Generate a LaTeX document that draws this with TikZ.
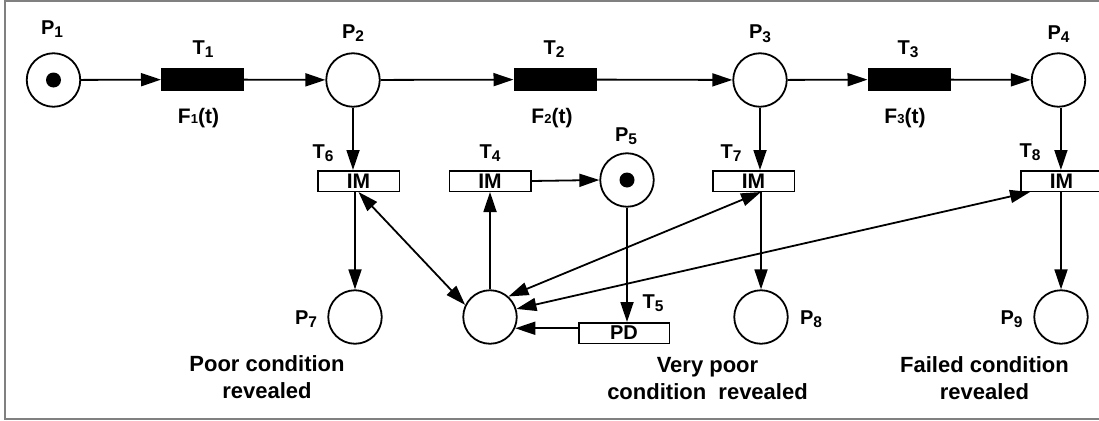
\documentclass[tikz,border=0pt]{standalone}
\usepackage{fontspec}
\setmainfont{Liberation Sans}
\usetikzlibrary{arrows.meta}
\newcommand{\pnlabel}[2]{\fontsize{20}{20}\selectfont\textbf{#1}\raisebox{-3pt}{\fontsize{15.5}{15.5}\selectfont\textbf{#2}}}
\newcommand{\fnlabel}[1]{\fontsize{21}{21}\selectfont\textbf{F{\fontsize{13}{13}\selectfont #1}(t)}}
\tikzset{
  place/.style={circle, draw, line width=1.8pt, minimum size=53.5pt, inner sep=0pt},
  timed/.style={rectangle, fill=black, draw, line width=1pt, minimum width=82pt, minimum height=22pt, inner sep=0pt},
  imm/.style={rectangle, draw, line width=1.5pt, minimum width=81.5pt, minimum height=20.5pt, inner sep=0pt, font=\fontsize{21}{21}\selectfont\bfseries},
  token/.style={circle, fill=black, minimum size=15pt, inner sep=0pt},
  lbl/.style={anchor=base, inner sep=0pt},
  bottxt/.style={anchor=base, align=center, inner sep=0pt, font=\fontsize{22}{27}\selectfont\bfseries},
  arc/.style={line width=1.8pt, -{Triangle[length=20pt,width=13pt]}},
  darc/.style={line width=1.8pt, {Triangle[length=20pt,width=13pt]}-{Triangle[length=20pt,width=13pt]}},
}
\begin{document}
\begin{tikzpicture}[x=1pt, y=-1pt]
\useasboundingbox (0,0) rectangle (1099,420);
\draw[gray, line width=2pt] (1105,1.5) -- (5,1.5) -- (5,418.5) -- (1105,418.5);

% places
\node[place] (P1) at (53.5,80) {};
\node[token] (k1) at (P1) {};
\node[place] (P2) at (353,80) {};
\node[place] (P3) at (760,80) {};
\node[place] (P4) at (1058.5,80) {};
\node[place] (P5) at (627,180) {};
\node[token] (k5) at (P5) {};
\node[place] (P7) at (355,317) {};
\node[place] (M) at (490,317) {};
\node[place] (P8) at (761,317) {};
\node[place] (P9) at (1061,317) {};

% timed transitions
\node[timed] (T1) at (202.5,79.5) {};
\node[timed] (T2) at (555,79.5) {};
\node[timed] (T3) at (909,79.5) {};

% immediate transitions
\node[imm] (T6) at (358.5,181) {IM};
\node[imm] (T4) at (490,181) {IM};
\node[imm] (T7) at (753.5,181) {IM};
\node[imm] (T8) at (1061.5,181) {IM};
\node[imm, minimum width=90.5pt, font=\fontsize{20}{20}\selectfont\bfseries] (T5) at (624,333) {PD};

% labels
\node[lbl] (lP1) at (52,34.3) {\pnlabel{P}{1}};
\node[lbl] (lP2) at (353,38.5) {\pnlabel{P}{2}};
\node[lbl] (lP3) at (760,39) {\pnlabel{P}{3}};
\node[lbl] (lP4) at (1058.5,39.5) {\pnlabel{P}{4}};
\node[lbl] (lP5) at (626,141.7) {\pnlabel{P}{5}};
\node[lbl] (lP7) at (306,324) {\pnlabel{P}{7}};
\node[lbl] (lP8) at (811,324) {\pnlabel{P}{8}};
\node[lbl] (lP9) at (1011.5,324) {\pnlabel{P}{9}};
\node[lbl] (lT1) at (203,55) {\pnlabel{T}{1}};
\node[lbl] (lT2) at (554,55) {\pnlabel{T}{2}};
\node[lbl] (lT3) at (908,55) {\pnlabel{T}{3}};
\node[lbl] (lT6) at (323,158.3) {\pnlabel{T}{6}};
\node[lbl] (lT4) at (490,158.3) {\pnlabel{T}{4}};
\node[lbl] (lT7) at (731,158) {\pnlabel{T}{7}};
\node[lbl] (lT8) at (1030,157) {\pnlabel{T}{8}};
\node[lbl] (lT5) at (653,308.3) {\pnlabel{T}{5}};
\node[lbl] (lF1) at (198.5,123.3) {\fnlabel{1}};
\node[lbl] (lF2) at (552,123.3) {\fnlabel{2}};
\node[lbl] (lF3) at (905,123.3) {\fnlabel{3}};

\node[bottxt] (L7) at (267,398) {Poor condition\\revealed};
\node[bottxt] (L8) at (707.5,399) {Very poor\\condition\ \ revealed};
\node[bottxt] (L9) at (984.5,399) {Failed condition\\revealed};

% main line
\draw[arc] (P1) -- (T1);
\draw[arc] (T1) -- (P2);
\draw[arc] (P2) -- (T2);
\draw[arc] (T2) -- (P3);
\draw[arc] (P3) -- (T3);
\draw[arc] (T3) -- (P4);

% verticals
\draw[arc] (P2.south) -- (P2.south |- T6.north);
\draw[arc] (P7.north |- T6.south) -- (P7.north);
\draw[arc] (P3.south) -- (P3.south |- T7.north);
\draw[arc] (P8.north |- T7.south) -- (P8.north);
\draw[arc] (P4.-85) -- (P4.-85 |- T8.north);
\draw[arc] (P9.north |- T8.south) -- (P9.north);
\draw[arc] (M.north) -- (T4.south);
\draw[arc] (T4.east) -- (P5.west);
\draw[arc] (P5.south) -- (P5.south |- T5.north);
\draw[arc] (T5.west |- M.-24) -- (M.-24);

% double arcs to the central place
\draw[darc] (T6.south) -- (M.154);
\draw[darc] (P8.north |- T7.south) -- (M.48);
\draw[darc] ([xshift=10pt]T8.south west) -- (M.17);
\end{tikzpicture}
\end{document}
